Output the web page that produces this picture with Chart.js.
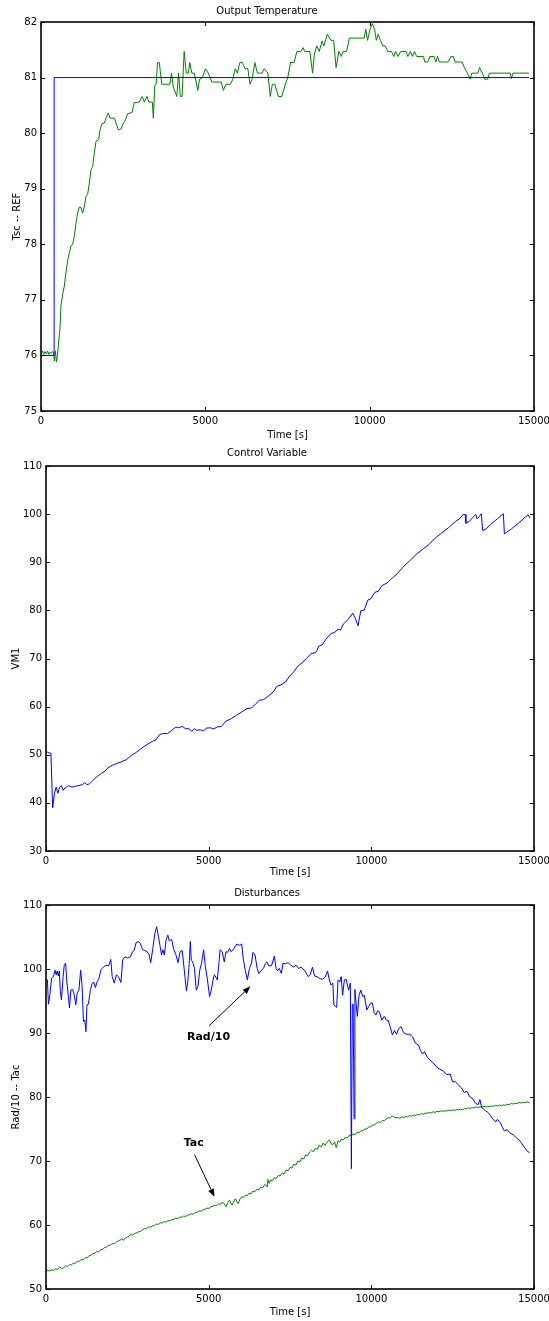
<!DOCTYPE html>
<html><head><meta charset="utf-8">
<script src="https://cdn.jsdelivr.net/npm/chart.js@4"></script>
<style>
body{margin:0;background:#fff;overflow:hidden;}
.wrap{position:absolute;left:0;width:549px;}
canvas{display:block;}
</style></head><body>
<div class="wrap" style="top:0"><canvas id="c1" width="549" height="445"></canvas></div>
<div class="wrap" style="top:442px"><canvas id="c2" width="549" height="440"></canvas></div>
<div class="wrap" style="top:882px"><canvas id="c3" width="549" height="439"></canvas></div>
<script>
// ---------- DATA ----------
const xTicks = [0, 5000, 10000, 15000];
const titles = ['Output Temperature', 'Control Variable', 'Disturbances'];
const yTitles = ['Tsc -- REF', 'VM1', 'Rad/10 -- Tac'];
const xTitle = 'Time [s]';

// Chart 1: reference (blue) and output temperature Tsc (green) [time, value]
const refPoints = [[0,76],[400,76],[400,81],[14850,81]];
const tscPoints = [[0,76.05],[40,76.08],[80,76.02],[120,76.07],[160,76.03],[200,76.08],[240,76.02],[280,76.06],[320,76.04],[355,76.07],[380,76.05],[406,75.9],[440,76.08],[470,75.88],[500,76.0],[527,76.17],[578,76.5],[608,76.9],[659,77.1],[710,77.25],[761,77.5],[811,77.7],[862,77.85],[913,77.97],[963,78.0],[1014,78.15],[1065,78.38],[1115,78.56],[1166,78.67],[1217,78.66],[1268,78.56],[1318,78.68],[1369,78.86],[1420,78.9],[1470,79.1],[1521,79.34],[1572,79.4],[1622,79.64],[1673,79.85],[1754,79.88],[1795,80.06],[1856,80.17],[1927,80.18],[1977,80.27],[2048,80.36],[2099,80.27],[2231,80.27],[2302,80.15],[2353,80.06],[2434,80.07],[2484,80.15],[2565,80.24],[2636,80.35],[2768,80.37],[2839,80.55],[2991,80.56],[3078,80.66],[3142,80.56],[3227,80.66],[3280,80.56],[3387,80.56],[3419,80.27],[3461,80.86],[3504,80.88],[3546,81.27],[3600,81.27],[3674,80.88],[3919,80.88],[3972,81.08],[4026,80.83],[4132,80.66],[4185,81.08],[4239,80.66],[4292,80.66],[4356,81.47],[4420,81.08],[4484,81.08],[4526,81.27],[4590,81.08],[4665,81.08],[4771,80.77],[4824,80.97],[4910,81.0],[5005,81.16],[5090,81.08],[5197,80.92],[5485,80.92],[5548,80.77],[5623,80.88],[5761,80.88],[5836,80.97],[5911,81.16],[5975,81.08],[6049,81.27],[6124,81.27],[6209,81.16],[6294,81.16],[6358,80.88],[6422,80.97],[6507,81.27],[6582,81.08],[6720,81.08],[6795,81.16],[6901,81.08],[6976,80.66],[7040,80.88],[7114,80.88],[7220,80.66],[7327,80.66],[7433,80.88],[7508,81.0],[7593,81.27],[7700,81.27],[7785,81.47],[7913,81.47],[7977,81.54],[8019,81.47],[8179,81.47],[8264,81.08],[8317,81.42],[8392,81.57],[8466,81.47],[8552,81.66],[8605,81.57],[8712,81.78],[8818,81.67],[8903,81.67],[8978,81.18],[9063,81.47],[9137,81.38],[9190,81.47],[9297,81.47],[9382,81.71],[9830,81.71],[9883,81.87],[9936,81.67],[10011,81.87],[10085,81.97],[10149,81.87],[10202,81.67],[10256,81.78],[10330,81.67],[10394,81.57],[10469,81.57],[10554,81.47],[10660,81.47],[10735,81.38],[10788,81.47],[10863,81.38],[10948,81.47],[11108,81.47],[11161,81.38],[11236,81.47],[11300,81.38],[11364,81.47],[11428,81.38],[11641,81.38],[11672,81.28],[11768,81.28],[11832,81.38],[11960,81.38],[12013,81.28],[12066,81.38],[12119,81.28],[12386,81.28],[12471,81.38],[12545,81.38],[12599,81.28],[12812,81.28],[12896,81.16],[12971,81.08],[13056,80.97],[13109,81.08],[13290,81.08],[13344,81.18],[13429,81.08],[13504,80.97],[13589,80.97],[13642,81.08],[14281,81.08],[14313,80.98],[14356,81.08],[14850,81.08]];

// Chart 2: control variable VM1
const vm1Points = [[0,50.35],[43,50.55],[97,50.35],[151,50.35],[205,38.96],[258,41.9],[312,43.26],[366,42.0],[420,43.26],[474,43.6],[527,42.6],[581,43.1],[635,43.26],[689,43.6],[797,43.26],[904,43.47],[1012,43.6],[1119,43.8],[1195,44.2],[1259,43.8],[1335,43.96],[1410,44.44],[1550,45.35],[1711,46.18],[1819,46.6],[1905,47.3],[2034,47.8],[2142,48.1],[2303,48.5],[2465,48.96],[2626,49.86],[2788,50.56],[2949,51.4],[3110,52.15],[3272,52.78],[3380,53.1],[3488,54.2],[3595,54.4],[3735,54.4],[3864,55.07],[3993,55.76],[4080,55.6],[4187,55.9],[4295,55.4],[4402,55.4],[4478,54.86],[4564,55.4],[4639,55.07],[4747,55.2],[4833,54.93],[4941,55.55],[5048,55.6],[5156,55.4],[5264,55.76],[5393,55.9],[5533,57.0],[5694,57.5],[5856,58.2],[6017,58.9],[6179,59.6],[6319,59.72],[6448,60.6],[6555,61.3],[6685,61.46],[6825,62.15],[6986,63.05],[7094,64.2],[7255,64.65],[7363,65.14],[7470,66.2],[7610,67.2],[7740,68.4],[7869,69.1],[8009,70.0],[8149,71.04],[8278,71.2],[8331,71.7],[8385,72.6],[8493,72.85],[8600,74.0],[8762,75.2],[8870,75.4],[8977,76.1],[9052,75.9],[9139,77.15],[9300,78.2],[9429,79.44],[9515,78.2],[9591,76.8],[9677,79.93],[9785,80.07],[9892,82.15],[9978,82.36],[10107,83.75],[10215,83.96],[10323,85.14],[10484,85.7],[10646,86.74],[10807,87.7],[10969,88.96],[11184,90.35],[11399,91.74],[11615,92.9],[11776,93.7],[11938,94.86],[12153,96.04],[12368,97.15],[12583,98.47],[12713,99.03],[12820,99.93],[12885,99.93],[12906,98.1],[13014,98.5],[13143,99.5],[13208,99.93],[13251,99.03],[13316,99.5],[13380,100.07],[13423,96.6],[13531,96.94],[13660,97.85],[13875,99.03],[14058,100.07],[14090,95.9],[14306,96.94],[14521,98.1],[14736,99.4],[14822,99.86],[14865,99.24]];

// Chart 3: disturbances Rad/10 (blue) and Tac (green)
const radPoints = [[0,98.3],[43,98.3],[75,94.5],[118,95.9],[172,98.6],[226,98.8],[280,99.8],[312,99.1],[344,99.7],[377,98.9],[409,99.7],[441,96.5],[474,95.2],[527,98.8],[560,100.6],[603,100.9],[635,98.3],[689,95.7],[721,93.9],[764,96.7],[818,96.8],[872,95.9],[915,94.4],[958,96.2],[1012,96.7],[1066,99.8],[1109,97.3],[1152,91.8],[1195,92.0],[1227,90.2],[1259,94.4],[1302,94.5],[1367,96.8],[1421,97.8],[1475,97.9],[1518,97.1],[1572,98.0],[1625,98.5],[1690,99.9],[1765,100.3],[1841,100.6],[1927,100.5],[1991,101.5],[2034,98.8],[2099,97.8],[2164,99.1],[2228,98.8],[2303,97.9],[2357,101.4],[2422,101.9],[2508,101.7],[2594,101.9],[2659,102.7],[2713,102.9],[2767,104.1],[2842,104.3],[2896,104.0],[2971,103.0],[3035,102.9],[3111,102.7],[3165,102.3],[3219,101.0],[3283,103.2],[3348,105.6],[3402,106.6],[3455,105.1],[3509,103.5],[3552,102.2],[3595,103.0],[3638,102.2],[3692,104.6],[3746,105.3],[3789,104.4],[3864,104.6],[3918,103.2],[3994,102.2],[4058,101.0],[4123,102.7],[4187,102.9],[4252,99.8],[4316,96.6],[4359,98.0],[4403,100.9],[4435,104.3],[4467,101.4],[4510,101.1],[4564,100.1],[4618,96.7],[4672,97.3],[4726,99.8],[4780,100.9],[4844,103.0],[4898,100.4],[4963,98.3],[5027,95.7],[5081,96.7],[5135,98.3],[5178,99.1],[5221,98.7],[5264,98.3],[5318,101.0],[5350,103.0],[5415,102.7],[5479,101.1],[5533,102.7],[5587,102.6],[5641,103.2],[5694,102.7],[5780,103.2],[5866,103.9],[5953,103.7],[6017,103.9],[6060,101.7],[6125,99.8],[6189,98.3],[6254,100.1],[6318,100.9],[6361,102.6],[6426,102.2],[6490,100.1],[6544,99.3],[6619,99.8],[6684,100.1],[6748,100.9],[6792,101.1],[6846,100.5],[6932,100.5],[7018,102.0],[7072,100.1],[7115,99.7],[7169,100.1],[7233,99.3],[7287,100.9],[7362,100.8],[7438,101.0],[7524,100.6],[7610,100.3],[7686,100.6],[7761,100.1],[7847,100.3],[7955,99.7],[8062,98.8],[8127,99.2],[8191,100.3],[8256,98.9],[8331,98.8],[8417,98.5],[8493,98.4],[8579,98.7],[8654,99.7],[8708,98.3],[8762,97.5],[8816,97.8],[8848,94.4],[8891,94.2],[8934,94.0],[8977,98.3],[9031,98.0],[9074,98.8],[9117,95.9],[9171,98.3],[9225,98.4],[9300,96.7],[9354,97.8],[9387,68.8],[9415,94.5],[9440,94.5],[9470,76.6],[9495,96.8],[9569,92.6],[9623,95.9],[9677,96.7],[9731,95.7],[9785,95.9],[9860,93.6],[9914,94.1],[9978,94.7],[10032,94.7],[10086,93.2],[10140,92.8],[10194,93.5],[10248,93.3],[10323,92.0],[10398,92.6],[10463,92.0],[10517,92.0],[10571,91.1],[10646,89.7],[10710,90.4],[10775,89.8],[10840,90.7],[10915,91.0],[10990,90.05],[11076,89.8],[11184,89.8],[11270,89.4],[11356,88.4],[11453,88.1],[11507,87.3],[11572,86.7],[11636,87.1],[11722,86.2],[11884,85.4],[12045,84.5],[12207,84.1],[12314,83.5],[12422,83.6],[12497,82.4],[12583,82.4],[12670,81.9],[12777,81.4],[12852,80.7],[12939,80.9],[13014,80.1],[13122,79.7],[13208,79.0],[13283,78.8],[13337,79.6],[13391,78.4],[13499,77.9],[13606,77.5],[13714,76.7],[13822,76.1],[13875,76.5],[13961,76.0],[14037,75.2],[14090,74.7],[14176,74.9],[14252,74.4],[14360,74.1],[14467,73.6],[14575,73.1],[14682,72.3],[14790,71.55],[14865,71.3]];
const tacPoints = [[0,52.75],[60,52.95],[120,52.8],[180,53.0],[240,52.9],[300,53.15],[360,53.05],[420,53.45],[480,53.2],[540,53.3],[600,53.6],[660,53.5],[720,53.8],[780,53.75],[840,54.05],[900,54.0],[960,54.35],[1020,54.3],[1080,54.6],[1140,54.55],[1200,54.9],[1260,54.85],[1320,55.2],[1380,55.25],[1440,55.55],[1500,55.6],[1560,55.85],[1620,55.8],[1680,56.15],[1740,56.2],[1800,56.45],[1860,56.55],[1920,56.8],[1980,56.85],[2040,57.1],[2100,57.05],[2160,57.35],[2220,57.5],[2280,57.65],[2330,57.85],[2380,57.6],[2440,57.95],[2500,58.1],[2560,58.25],[2620,58.6],[2670,58.4],[2730,58.7],[2790,58.75],[2850,58.95],[2910,59.0],[2970,59.25],[3030,59.45],[3090,59.4],[3150,59.7],[3210,59.65],[3270,59.85],[3330,59.9],[3390,60.15],[3450,60.1],[3510,60.35],[3570,60.3],[3630,60.55],[3690,60.45],[3750,60.7],[3810,60.65],[3870,60.85],[3930,60.9],[3990,61.05],[4050,61.0],[4110,61.25],[4170,61.2],[4230,61.4],[4290,61.35],[4350,61.55],[4410,61.6],[4470,61.75],[4530,61.7],[4590,61.95],[4650,62.0],[4710,62.2],[4770,62.15],[4830,62.4],[4890,62.45],[4950,62.65],[5010,62.6],[5070,62.85],[5130,62.95],[5190,63.1],[5250,63.05],[5310,63.3],[5370,63.25],[5425,63.6],[5480,63.3],[5533,62.85],[5590,63.55],[5641,63.9],[5690,63.3],[5716,63.15],[5780,63.75],[5823,64.1],[5870,63.6],[5910,63.35],[5960,64.05],[6017,64.4],[6070,64.3],[6125,64.65],[6180,64.55],[6240,64.95],[6300,64.85],[6360,65.3],[6420,65.2],[6480,65.6],[6540,65.5],[6600,65.95],[6660,65.8],[6720,66.3],[6771,66.2],[6800,65.95],[6825,67.1],[6860,66.5],[6910,67.05],[6960,66.9],[7020,67.4],[7080,67.3],[7140,67.75],[7200,67.65],[7260,68.15],[7320,68.0],[7380,68.6],[7440,68.45],[7500,69.0],[7560,68.9],[7620,69.55],[7680,69.35],[7740,70.0],[7800,69.85],[7860,70.45],[7920,70.3],[7980,70.95],[8040,70.8],[8100,71.4],[8160,71.7],[8220,71.45],[8280,72.0],[8340,71.8],[8400,72.5],[8460,72.2],[8520,72.8],[8580,72.45],[8640,72.95],[8708,73.3],[8760,72.7],[8816,72.55],[8870,73.0],[8923,72.1],[8977,73.15],[9030,72.95],[9085,73.45],[9140,73.3],[9200,73.7],[9260,73.6],[9320,74.0],[9380,73.9],[9440,74.25],[9500,74.1],[9560,74.5],[9620,74.4],[9680,74.75],[9740,74.7],[9800,75.05],[9860,74.95],[9920,75.35],[9980,75.3],[10040,75.65],[10100,75.6],[10160,75.95],[10220,76.1],[10280,76.05],[10340,76.35],[10400,76.3],[10460,76.6],[10520,76.75],[10580,76.7],[10646,77.05],[10700,76.85],[10760,76.75],[10820,76.8],[10880,76.65],[10940,76.9],[11000,76.8],[11060,76.95],[11120,76.9],[11180,77.1],[11240,77.0],[11300,77.2],[11360,77.1],[11420,77.3],[11480,77.25],[11540,77.4],[11600,77.3],[11660,77.5],[11720,77.45],[11780,77.6],[11840,77.5],[11900,77.7],[11960,77.6],[12020,77.75],[12080,77.7],[12140,77.85],[12200,77.75],[12260,77.85],[12320,77.8],[12380,77.95],[12440,77.85],[12500,78.0],[12560,77.9],[12620,78.05],[12680,78.0],[12740,78.1],[12800,78.0],[12860,78.2],[12920,78.15],[12980,78.3],[13040,78.2],[13100,78.35],[13160,78.3],[13220,78.45],[13280,78.35],[13340,78.45],[13400,78.4],[13460,78.55],[13520,78.45],[13580,78.55],[13640,78.5],[13700,78.6],[13760,78.55],[13820,78.7],[13880,78.6],[13940,78.75],[14000,78.65],[14060,78.8],[14120,78.7],[14180,78.85],[14240,78.8],[14300,79.0],[14360,78.9],[14420,79.05],[14480,78.95],[14540,79.15],[14600,79.05],[14660,79.2],[14720,79.1],[14780,79.25],[14865,79.1]];

// Annotations on chart 3
const noteLabels = ['Rad/10', 'Tac'];
const noteText = [[4995, 89.4], [4543, 72.85]];
const noteTail = [[5016, 91.15], [4564, 71.0]];
const noteHead = [[6286, 97.3], [5178, 64.4]];

// ---------- CHARTS ----------
const FONT = "'DejaVu Sans', sans-serif";
const toXY = pts => pts.map(p => ({x: p[0], y: p[1]}));

const framePlugin = {
  id: 'frameTicks',
  afterDraw(chart) {
    const {ctx, chartArea: a, scales} = chart;
    ctx.save();
    ctx.strokeStyle = '#000';
    ctx.lineWidth = 1;
    const L = 4;
    ctx.beginPath();
    scales.x.ticks.forEach(t => {
      const px = Math.round(scales.x.getPixelForValue(t.value)) + 0.5;
      ctx.moveTo(px, a.bottom); ctx.lineTo(px, a.bottom - L);
      ctx.moveTo(px, a.top); ctx.lineTo(px, a.top + L);
    });
    scales.y.ticks.forEach(t => {
      const py = Math.round(scales.y.getPixelForValue(t.value)) + 0.5;
      ctx.moveTo(a.left, py); ctx.lineTo(a.left + L, py);
      ctx.moveTo(a.right, py); ctx.lineTo(a.right - L, py);
    });
    ctx.stroke();
    ctx.lineWidth = 1.6;
    ctx.strokeRect(a.left, a.top, a.right - a.left, a.bottom - a.top);
    ctx.restore();
  }
};

const notesPlugin = {
  id: 'notes',
  afterDraw(chart) {
    const {ctx, scales: {x, y}} = chart;
    ctx.save();
    ctx.fillStyle = '#000';
    ctx.strokeStyle = '#000';
    ctx.lineWidth = 1;
    ctx.font = "bold 11px " + FONT;
    ctx.textAlign = 'center';
    ctx.textBaseline = 'middle';
    noteLabels.forEach((lab, i) => {
      ctx.fillText(lab, x.getPixelForValue(noteText[i][0]), y.getPixelForValue(noteText[i][1]));
      const x0 = x.getPixelForValue(noteTail[i][0]), y0 = y.getPixelForValue(noteTail[i][1]);
      const x1 = x.getPixelForValue(noteHead[i][0]), y1 = y.getPixelForValue(noteHead[i][1]);
      const ang = Math.atan2(y1 - y0, x1 - x0);
      const hl = 8, hw = 3;
      const bx = x1 - hl * Math.cos(ang), by = y1 - hl * Math.sin(ang);
      ctx.beginPath(); ctx.moveTo(x0, y0); ctx.lineTo(bx, by); ctx.stroke();
      ctx.beginPath();
      ctx.moveTo(x1, y1);
      ctx.lineTo(bx + hw * Math.sin(ang), by - hw * Math.cos(ang));
      ctx.lineTo(bx - hw * Math.sin(ang), by + hw * Math.cos(ang));
      ctx.closePath(); ctx.fill();
    });
    ctx.restore();
  }
};

function makeChart(id, cfg) {
  const series = cfg.series.map(s => ({
    data: toXY(s.pts), borderColor: s.color, borderWidth: 1,
    pointRadius: 0, tension: 0, fill: false
  }));
  return new Chart(document.getElementById(id), {
    type: 'line',
    data: {datasets: series},
    plugins: cfg.extra ? [framePlugin, cfg.extra] : [framePlugin],
    options: {
      responsive: false, animation: false, devicePixelRatio: 1,
      layout: {padding: {left: 0, right: 15, top: 0, bottom: 0}},
      plugins: {
        legend: {display: false}, tooltip: {enabled: false},
        title: {display: true, text: cfg.title, color: '#000',
          font: {family: FONT, size: 10, weight: 'normal'},
          padding: {top: 5, bottom: cfg.titleGap}}
      },
      scales: {
        x: {
          type: 'linear', min: 0, max: 15000,
          afterBuildTicks: s => { s.ticks = xTicks.map(v => ({value: v})); },
          ticks: {color: '#000', font: {family: FONT, size: 10}, padding: 4, maxRotation: 0, autoSkip: false,
            callback: v => String(v)},
          grid: {display: false, drawTicks: false},
          border: {display: false},
          title: {display: true, text: xTitle, color: '#000', font: {family: FONT, size: 10}, padding: {top: 0, bottom: cfg.xTitlePad}},
          afterFit: s => { s.height = cfg.xH; s.paddingLeft = 0; s.paddingRight = 0; }
        },
        y: {
          type: 'linear', min: cfg.yMin, max: cfg.yMax,
          ticks: {stepSize: cfg.yStep, color: '#000', font: {family: FONT, size: 10}, padding: 4},
          grid: {display: false, drawTicks: false},
          border: {display: false},
          title: {display: true, text: cfg.yTitle, color: '#000', font: {family: FONT, size: 10}, padding: {top: cfg.yTitlePad, bottom: 0}},
          afterFit: s => { s.width = cfg.yW; s.paddingTop = 0; s.paddingBottom = 0; }
        }
      }
    }
  });
}

makeChart('c1', {
  title: titles[0], yTitle: yTitles[0], titleGap: 5,
  yMin: 75, yMax: 82, yStep: 1, yW: 41, yTitlePad: 11, xH: 34, xTitlePad: 4,
  series: [{pts: refPoints, color: '#0000ff'}, {pts: tscPoints, color: '#008000'}]
});
makeChart('c2', {
  title: titles[1], yTitle: yTitles[1], titleGap: 7,
  yMin: 30, yMax: 110, yStep: 10, yW: 46, yTitlePad: 10, xH: 31, xTitlePad: 4,
  series: [{pts: vm1Points, color: '#0000ff'}]
});
makeChart('c3', {
  title: titles[2], yTitle: yTitles[2], titleGap: 6,
  yMin: 50, yMax: 110, yStep: 10, yW: 46, yTitlePad: 10, xH: 32, xTitlePad: 3,
  series: [{pts: radPoints, color: '#0000ff'}, {pts: tacPoints, color: '#008000'}],
  extra: notesPlugin
});
</script>
</body></html>
